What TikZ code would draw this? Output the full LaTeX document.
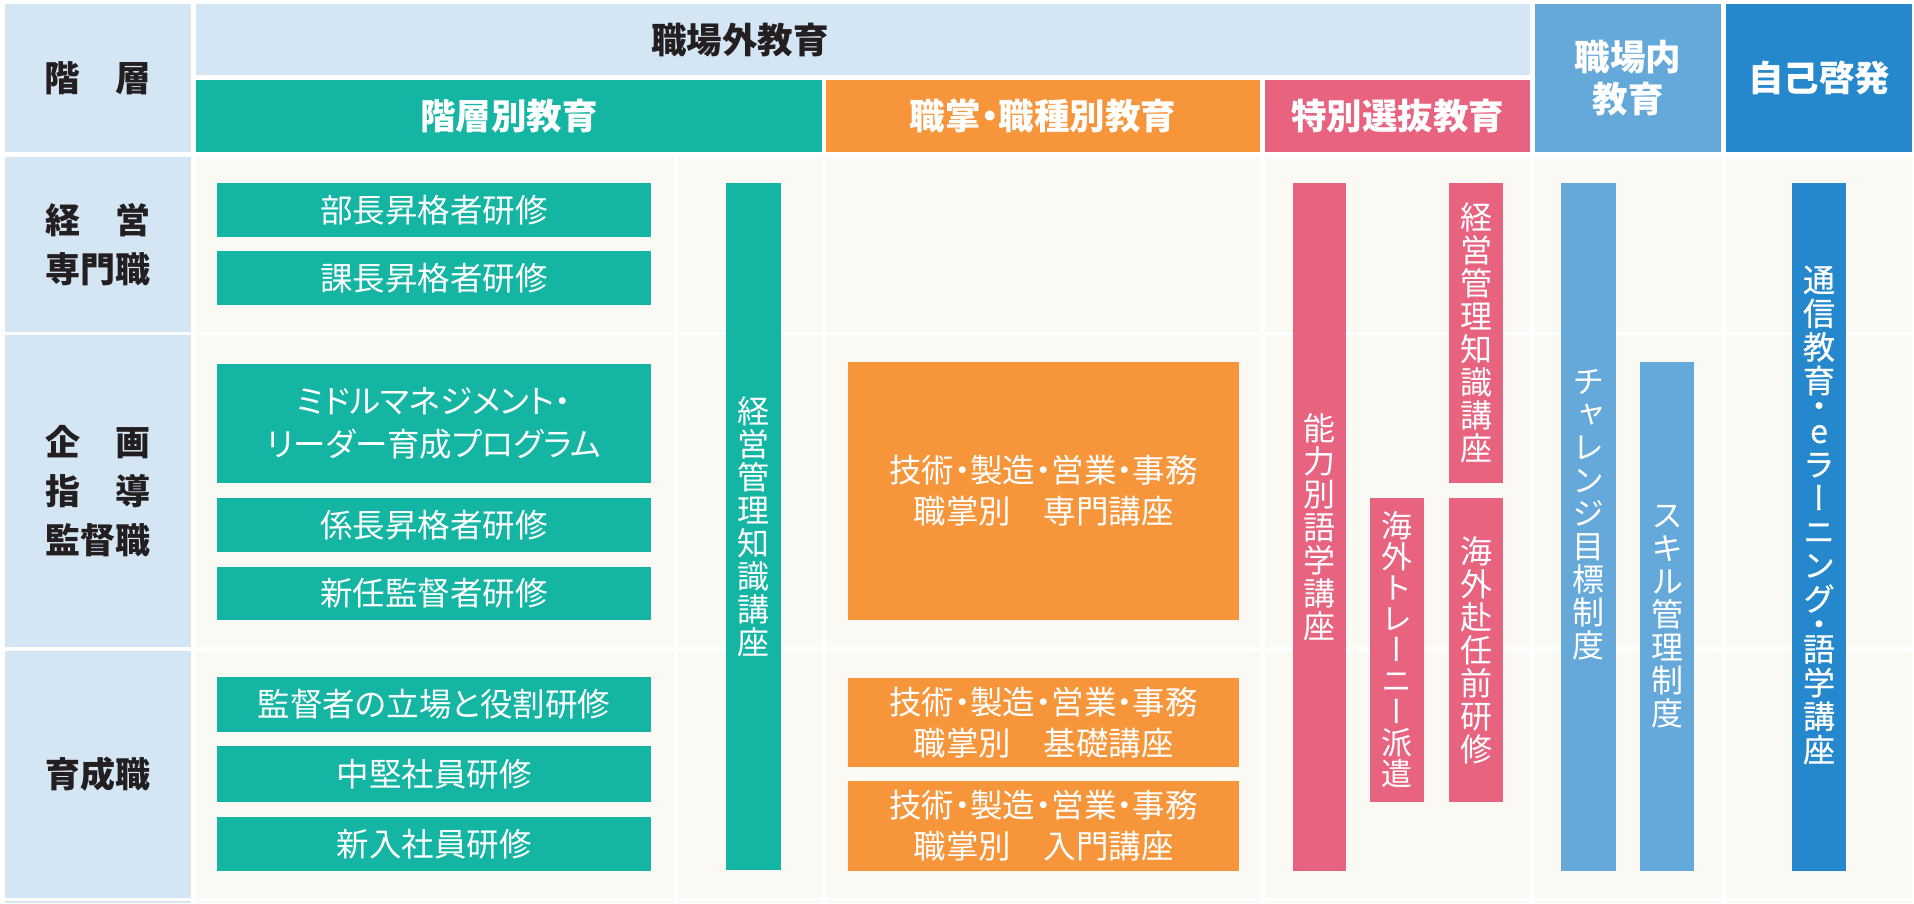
\documentclass[tikz,border=0pt]{standalone}
\usepackage{fontspec}
\newfontfamily\jp[RawFeature=+palt]{Noto Sans CJK JP}
\newfontfamily\jpv[RawFeature=+vert]{Noto Sans CJK JP}
\newfontfamily\jpvm[RawFeature=+vert, FakeBold=0.5]{Noto Sans CJK JP}
\definecolor{cHead}{HTML}{D4E6F4}
\definecolor{cCream}{HTML}{FBF9F4}
\definecolor{cTeal}{HTML}{14B5A3}
\definecolor{cOrange}{HTML}{F7953A}
\definecolor{cPink}{HTML}{E8637F}
\definecolor{cMid}{HTML}{65A8DA}
\definecolor{cDark}{HTML}{2587CC}
\definecolor{cInk}{HTML}{231F20}
\tikzset{
  base/.style={inner sep=0pt, outer sep=0pt, anchor=north west, align=center},
  hd/.style={base, fill=cHead, text=cInk, font=\jp\bfseries\fontsize{35.5}{42}\selectfont},
  lab/.style={base, fill=cHead, text=cInk, font=\jp\bfseries\fontsize{35}{49}\selectfont},
  hbox/.style={base, text=white, font=\jp\fontsize{32.5}{41}\selectfont},
  vbox/.style={base, text=white, font=\jpv\fontsize{32}{33}\selectfont},
  vtext/.style={inner sep=0pt, align=center, text=white, font=\jpv\fontsize{32}{33}\selectfont},
}
\newcommand\mkbox[7]{\node[#6, minimum width={#4-#2}, minimum height={#5-#3}] (#1) at (#2,#3) {#7};}
\begin{document}
\begin{tikzpicture}[x=1pt,y=-1pt]
\useasboundingbox (0,0) rectangle (1914,903);
\fill[white] (0,0) rectangle (1914,903);
% body cells
\foreach \xa/\xb in {196/674, 678/822, 826/1260, 1265/1530, 1535/1721, 1726/1912}
  \foreach \ya/\yb in {157/332, 335/647, 651/898, 901/903}
    \fill[cCream] (\xa,\ya) rectangle (\xb,\yb);
\fill[cHead] (5,901) rectangle (191,903);
% headers
\mkbox{hA}{5}{4}{191}{152}{hd}{階　層}
\mkbox{hB}{196}{4}{1530}{75}{hd}{}
\node[inner sep=0pt, text=cInk, font=\jp\bfseries\fontsize{35.5}{42}\selectfont] (hBt) at (740,40) {職場外教育};
\mkbox{hC}{196}{80}{822}{152}{hd, fill=cTeal, text=white}{階層別教育}
\mkbox{hD}{826}{80}{1260}{152}{hd, fill=cOrange, text=white}{職掌・職種別教育}
\mkbox{hE}{1265}{80}{1530}{152}{hd, fill=cPink, text=white}{特別選抜教育}
\mkbox{hF}{1535}{4}{1721}{152}{hd, fill=cMid, text=white}{職場内\\教育}
\mkbox{hG}{1726}{4}{1912}{152}{hd, fill=cDark, text=white}{自己啓発}
% row labels
\mkbox{rA}{5}{157}{191}{332}{lab}{経　営\\専門職}
\mkbox{rB}{5}{335}{191}{647}{lab}{企　画\\指　導\\監督職}
\mkbox{rC}{5}{651}{191}{898}{lab}{育成職}
% teal boxes
\mkbox{t1}{217}{183}{651}{237}{hbox, fill=cTeal}{部長昇格者研修}
\mkbox{t2}{217}{251}{651}{305}{hbox, fill=cTeal}{課長昇格者研修}
\mkbox{t3}{217}{364}{651}{483}{hbox, fill=cTeal, font=\jp\fontsize{32.5}{43}\selectfont}{ミドルマネジメント・\\リーダー育成プログラム}
\mkbox{t4}{217}{498}{651}{552}{hbox, fill=cTeal}{係長昇格者研修}
\mkbox{t5}{217}{567}{651}{620}{hbox, fill=cTeal}{新任監督者研修}
\mkbox{t6}{217}{677}{651}{732}{hbox, fill=cTeal}{監督者の立場と役割研修}
\mkbox{t7}{217}{746}{651}{802}{hbox, fill=cTeal}{中堅社員研修}
\mkbox{t8}{217}{817}{651}{871}{hbox, fill=cTeal}{新入社員研修}
\mkbox{tv}{726}{183}{781}{870}{vbox, fill=cTeal}{経\\営\\管\\理\\知\\識\\講\\座}
% orange boxes
\mkbox{o1}{848}{362}{1239}{620}{hbox, fill=cOrange}{技術・製造・営業・事務\\職掌別　専門講座}
\mkbox{o2}{848}{678}{1239}{767}{hbox, fill=cOrange}{技術・製造・営業・事務\\職掌別　基礎講座}
\mkbox{o3}{848}{781}{1239}{871}{hbox, fill=cOrange}{技術・製造・営業・事務\\職掌別　入門講座}
% pink bars
\mkbox{p1}{1293}{183}{1346}{871}{vbox, fill=cPink}{能\\力\\別\\語\\学\\講\\座}
\mkbox{p2}{1449}{183}{1503}{483}{vbox, fill=cPink}{経\\営\\管\\理\\知\\識\\講\\座}
\mkbox{p3}{1370}{498}{1424}{802}{vbox, fill=cPink, font=\jpv\fontsize{31}{31}\selectfont}{海\\外\\ト\\レ\\ー\\ニ\\ー\\派\\遣}
\mkbox{p4}{1449}{498}{1503}{802}{vbox, fill=cPink}{海\\外\\赴\\任\\前\\研\\修}
% blue bars
\mkbox{b1}{1561}{183}{1616}{871}{vbox, fill=cMid}{}
\node[vtext, yshift=12pt] (b1t) at (b1.center) {チ\\ャ\\レ\\ン\\ジ\\目\\標\\制\\度};
\mkbox{b2}{1640}{362}{1694}{871}{vbox, fill=cMid}{ス\\キ\\ル\\管\\理\\制\\度}
\mkbox{b3}{1792}{183}{1846}{871}{vbox, fill=cDark}{}
\node[vtext, yshift=12pt, font=\jpvm\fontsize{32}{33.6}\selectfont] (b3t) at (b3.center) {通\\信\\教\\育\\[-8.5pt]・\\[-8.5pt]e\\ラ\\ー\\ニ\\ン\\グ\\[-8.5pt]・\\[-8.5pt]語\\学\\講\\座};
\end{tikzpicture}
\end{document}
